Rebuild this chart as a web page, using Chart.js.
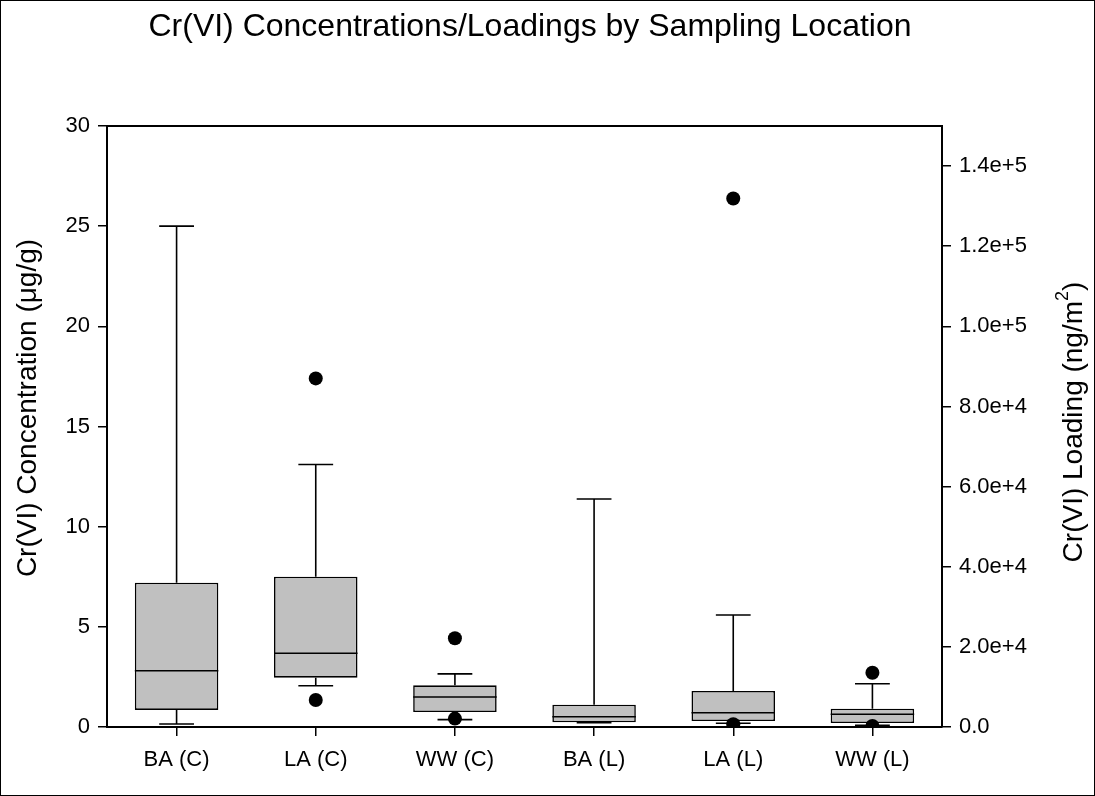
<!DOCTYPE html>
<html>
<head>
<meta charset="utf-8">
<script src="https://cdn.jsdelivr.net/npm/chart.js@4.4.1/dist/chart.umd.min.js"></script>
<style>
  html, body { margin: 0; padding: 0; background: #fff; }
  #wrap { width: 1095px; height: 796px; position: relative; }
</style>
</head>
<body>
<div id="wrap"><canvas id="boxChart"></canvas></div>
<script>
// Kategori sumbu X
const categories = ['BA (C)', 'LA (C)', 'WW (C)', 'BA (L)', 'LA (L)', 'WW (L)'];

// Konsentrasi (ug/g) - sumbu kiri
const concMin = [0.15, 2.06, 0.37];
const concQ1 = [0.85, 2.46, 0.75];
const concMedian = [2.81, 3.68, 1.5];
const concQ3 = [7.2, 7.5, 2.08];
const concMax = [25.0, 13.1, 2.65];
const concOutHigh = [null, 17.4, 4.43];
const concOutLow = [null, 1.35, 0.42];

// Loading (ng/m2) - sumbu kanan
const loadMin = [1100, 920, 420];
const loadQ1 = [1170, 1500, 1000];
const loadMedian = [2570, 3570, 3170];
const loadQ3 = [5560, 8980, 4570];
const loadMax = [56900, 27950, 10800];
const loadOutHigh = [null, 131900, 13550];
const loadOutLow = [null, 700, 250];

// Tick sumbu
const leftTicks = [0, 5, 10, 15, 20, 25, 30];
const rightTicks = [0, 20000, 40000, 60000, 80000, 100000, 120000, 140000];
const rightMax = 150000;

const FONT = "'Liberation Sans', Arial, sans-serif";
const TICK_SIZE = 22;
const nC = concQ1.length;

// Gabungkan jadi array sejajar dengan kategori
const concBoxes = concQ1.map((q, i) => [q, concQ3[i]]).concat(loadQ1.map(() => null));
const loadBoxes = concQ1.map(() => null).concat(loadQ1.map((q, i) => [q, loadQ3[i]]));
const padC = arr => arr.concat(loadQ1.map(() => null));
const padL = arr => concQ1.map(() => null).concat(arr);

// Plugin kumis, median, judul dan bingkai
const boxPlotPlugin = {
    id: 'boxPlotExtras',
    beforeDatasetsDraw(chart) {
        const { ctx, scales: { x, y, y1 } } = chart;
        const step = x.getPixelForValue(1) - x.getPixelForValue(0);
        const capHalf = step * 0.125;
        ctx.save();
        ctx.strokeStyle = '#000';
        ctx.lineWidth = 1.6;
        categories.forEach((c, i) => {
            const isC = i < nC;
            const j = isC ? i : i - nC;
            const sc = isC ? y : y1;
            const lo = isC ? concMin[j] : loadMin[j];
            const q1 = isC ? concQ1[j] : loadQ1[j];
            const q3 = isC ? concQ3[j] : loadQ3[j];
            const hi = isC ? concMax[j] : loadMax[j];
            const px = x.getPixelForValue(i);
            ctx.beginPath();
            ctx.moveTo(px, sc.getPixelForValue(q3));
            ctx.lineTo(px, sc.getPixelForValue(hi));
            ctx.moveTo(px - capHalf, sc.getPixelForValue(hi));
            ctx.lineTo(px + capHalf, sc.getPixelForValue(hi));
            ctx.moveTo(px, sc.getPixelForValue(q1));
            ctx.lineTo(px, sc.getPixelForValue(lo));
            ctx.moveTo(px - capHalf, sc.getPixelForValue(lo));
            ctx.lineTo(px + capHalf, sc.getPixelForValue(lo));
            ctx.stroke();
        });
        ctx.restore();
    },
    afterDatasetsDraw(chart) {
        const { ctx, scales: { x, y, y1 } } = chart;
        const step = x.getPixelForValue(1) - x.getPixelForValue(0);
        const half = step * 0.3;
        ctx.save();
        ctx.strokeStyle = '#000';
        ctx.lineWidth = 1.6;
        categories.forEach((c, i) => {
            const isC = i < nC;
            const j = isC ? i : i - nC;
            const sc = isC ? y : y1;
            const med = isC ? concMedian[j] : loadMedian[j];
            const px = x.getPixelForValue(i);
            const py = sc.getPixelForValue(med);
            ctx.beginPath();
            ctx.moveTo(px - half, py);
            ctx.lineTo(px + half, py);
            ctx.stroke();
        });
        ctx.restore();
    },
    afterDraw(chart) {
        const { ctx, chartArea: { left, right, top }, width, height } = chart;
        ctx.save();
        ctx.strokeStyle = '#000';
        // garis atas area plot
        ctx.lineWidth = 2;
        ctx.beginPath();
        ctx.moveTo(left, top);
        ctx.lineTo(right, top);
        ctx.stroke();
        // bingkai luar
        ctx.lineWidth = 1;
        ctx.strokeRect(0.5, 0.5, width - 1, height - 1);

        ctx.fillStyle = '#000';
        ctx.textAlign = 'center';
        ctx.textBaseline = 'middle';
        ctx.font = `32px ${FONT}`;
        ctx.fillText('Cr(VI) Concentrations/Loadings by Sampling Location', 530, 27);

        ctx.font = `28px ${FONT}`;
        ctx.save();
        ctx.translate(28, 408);
        ctx.rotate(-Math.PI / 2);
        ctx.fillText('Cr(VI) Concentration (\u03bcg/g)', 0, 0);
        ctx.restore();

        // judul kanan dengan superskrip
        ctx.save();
        ctx.translate(1074, 422);
        ctx.rotate(-Math.PI / 2);
        const part1 = 'Cr(VI) Loading (ng/m';
        const part3 = ')';
        ctx.font = `28px ${FONT}`;
        const w1 = ctx.measureText(part1).width;
        const w3 = ctx.measureText(part3).width;
        ctx.font = `18px ${FONT}`;
        const w2 = ctx.measureText('2').width;
        const sx = -(w1 + w2 + w3) / 2;
        ctx.textAlign = 'left';
        ctx.font = `28px ${FONT}`;
        ctx.fillText(part1, sx, 0);
        ctx.font = `18px ${FONT}`;
        ctx.fillText('2', sx + w1, -11);
        ctx.font = `28px ${FONT}`;
        ctx.fillText(part3, sx + w1 + w2, 0);
        ctx.restore();
        ctx.restore();
    }
};

const outlierStyle = {
    type: 'line',
    showLine: false,
    clip: 0,
    pointRadius: 7,
    pointHoverRadius: 7,
    pointBackgroundColor: '#000',
    pointBorderColor: '#000',
    pointBorderWidth: 0
};

const boxStyle = {
    type: 'bar',
    backgroundColor: '#c0c0c0',
    borderColor: '#000',
    borderWidth: 1.6,
    borderSkipped: false,
    grouped: false,
    barPercentage: 0.6,
    categoryPercentage: 1.0
};

const axisGrid = {
    display: true,
    drawOnChartArea: false,
    drawTicks: true,
    tickLength: 9,
    color: '#000',
    lineWidth: 1.5
};

new Chart(document.getElementById('boxChart').getContext('2d'), {
    data: {
        labels: categories,
        datasets: [
            { ...outlierStyle, label: 'Conc outlier high', data: padC(concOutHigh), yAxisID: 'y' },
            { ...outlierStyle, label: 'Conc outlier low', data: padC(concOutLow), yAxisID: 'y' },
            { ...outlierStyle, label: 'Load outlier high', data: padL(loadOutHigh), yAxisID: 'y1' },
            { ...outlierStyle, label: 'Load outlier low', data: padL(loadOutLow), yAxisID: 'y1' },
            { ...boxStyle, label: 'Concentration', data: concBoxes, yAxisID: 'y' },
            { ...boxStyle, label: 'Loading', data: loadBoxes, yAxisID: 'y1' }
        ]
    },
    plugins: [boxPlotPlugin],
    options: {
        responsive: true,
        maintainAspectRatio: false,
        animation: false,
        layout: { padding: { top: 126, left: 0, right: 0, bottom: 0 } },
        plugins: {
            legend: { display: false },
            title: { display: false },
            tooltip: { enabled: false }
        },
        scales: {
            x: {
                type: 'category',
                offset: true,
                grid: { ...axisGrid, offset: false },
                border: { display: true, color: '#000', width: 2 },
                ticks: { color: '#000', font: { family: FONT, size: TICK_SIZE }, padding: 11, maxRotation: 0 },
                afterFit: s => { s.height = 69; }
            },
            y: {
                position: 'left',
                min: leftTicks[0],
                max: leftTicks[leftTicks.length - 1],
                grid: axisGrid,
                border: { display: true, color: '#000', width: 2 },
                ticks: { color: '#000', font: { family: FONT, size: TICK_SIZE }, padding: 8 },
                afterBuildTicks: s => { s.ticks = leftTicks.map(v => ({ value: v })); },
                afterFit: s => { s.width = 107; }
            },
            y1: {
                position: 'right',
                min: 0,
                max: rightMax,
                grid: axisGrid,
                border: { display: true, color: '#000', width: 2 },
                ticks: {
                    color: '#000',
                    font: { family: FONT, size: TICK_SIZE },
                    padding: 8,
                    callback: v => v === 0 ? '0.0' : v.toExponential(1)
                },
                afterBuildTicks: s => { s.ticks = rightTicks.map(v => ({ value: v })); },
                afterFit: s => { s.width = 153; }
            }
        }
    }
});
</script>
</body>
</html>
